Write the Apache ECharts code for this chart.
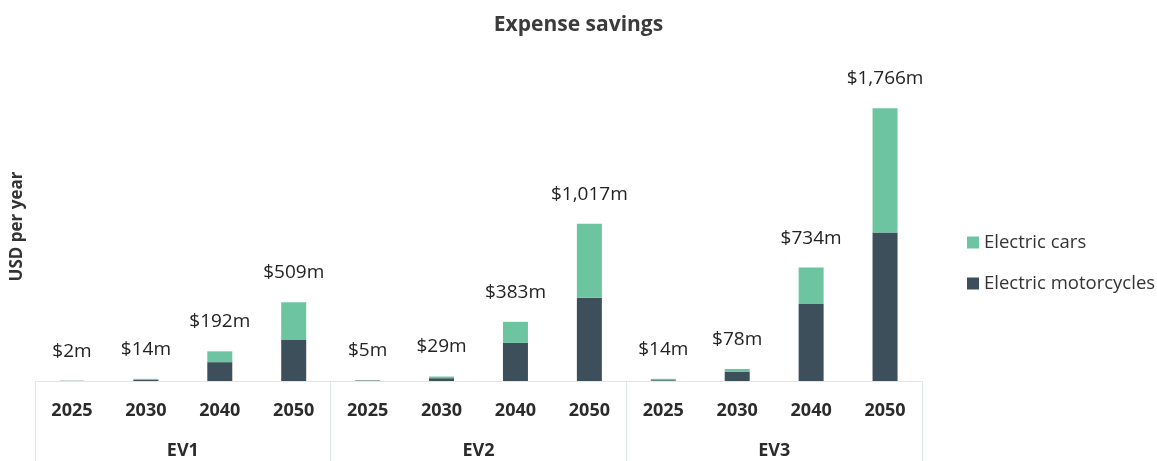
<!DOCTYPE html>
<html>
<head>
<meta charset="utf-8">
<script src="https://cdn.jsdelivr.net/npm/echarts@6/dist/echarts.min.js"></script>
<style>
  html, body { margin: 0; padding: 0; background: #ffffff; }
  #chart { width: 1157px; height: 461px; }
</style>
</head>
<body>
<div id="chart"></div>
<script>
// Annual expense savings (USD million) by scenario and year
const years = ['2025', '2030', '2040', '2050', '2025', '2030', '2040', '2050', '2025', '2030', '2040', '2050'];
const scenarios = ['EV1', 'EV2', 'EV3'];
const motorcycles = [1, 8, 122, 268, 3, 18, 247, 539, 5, 61, 498, 961];
const cars = [1, 6, 70, 241, 2, 11, 136, 478, 9, 17, 236, 805];
const totals = motorcycles.map((v, i) => v + cars[i]);

const FONT = '"Open Sans", sans-serif';
const LINE = '#dfe6e6';

const chart = echarts.init(document.getElementById('chart'));
chart.setOption({
  animation: false,
  title: {
    text: 'Expense savings',
    left: 'center',
    top: 10,
    textStyle: { fontFamily: FONT, fontSize: 21, fontWeight: 'bold', color: '#3b3b3b' }
  },
  legend: {
    orient: 'vertical',
    left: 962,
    top: 228,
    itemWidth: 12,
    itemHeight: 12,
    itemGap: 22,
    icon: 'rect',
    data: ['Electric cars', 'Electric motorcycles'],
    textStyle: { fontFamily: FONT, fontSize: 18.5, color: '#333333' }
  },
  grid: { left: 35, right: 235, top: 72, bottom: 80 },
  xAxis: [
    {
      type: 'category',
      data: years,
      position: 'bottom',
      axisLine: { show: true, lineStyle: { color: LINE, width: 1 } },
      axisTick: { show: false },
      axisLabel: { margin: 21, fontFamily: FONT, fontSize: 18, fontWeight: 'bold', color: '#2b2b2b' }
    },
    {
      type: 'category',
      data: scenarios,
      position: 'bottom',
      axisLine: { show: false },
      axisTick: { show: true, length: 82, lineStyle: { color: LINE, width: 1 } },
      axisLabel: { margin: 61, fontFamily: FONT, fontSize: 18, fontWeight: 'bold', color: '#2b2b2b' }
    }
  ],
  yAxis: {
    type: 'value',
    min: 0,
    max: 2000,
    name: 'USD per year',
    nameLocation: 'middle',
    nameGap: 9,
    nameRotate: 90,
    nameTextStyle: { fontFamily: FONT, fontSize: 17, fontWeight: 'bold', color: '#333333' },
    axisLine: { show: false },
    axisTick: { show: false },
    axisLabel: { show: false },
    splitLine: { show: false }
  },
  series: [
    {
      name: 'Electric motorcycles',
      type: 'bar',
      stack: 'savings',
      xAxisIndex: 0,
      barWidth: 25,
      itemStyle: { color: '#3e4f5c' },
      data: motorcycles
    },
    {
      name: 'Electric cars',
      type: 'bar',
      stack: 'savings',
      xAxisIndex: 0,
      barWidth: 25,
      itemStyle: { color: '#6cc5a0' },
      data: cars,
      label: {
        show: true,
        position: 'top',
        distance: 20,
        fontFamily: FONT,
        fontSize: 19,
        color: '#222222',
        formatter: p => '$' + totals[p.dataIndex].toLocaleString('en-US') + 'm'
      }
    }
  ]
});
</script>
</body>
</html>
